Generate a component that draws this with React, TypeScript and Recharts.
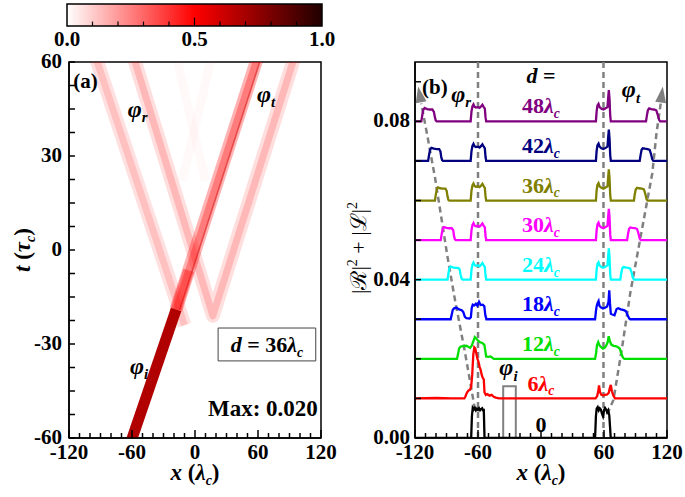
import React from 'react';
import { ComposedChart, Line, XAxis, YAxis, ReferenceArea, ReferenceLine, ReferenceDot } from 'recharts';

const SERIF = '"Liberation Serif", "Times New Roman", Times, serif';

// ---------------- colour bar ----------------
const cbTicks = [0, 0.1, 0.2, 0.3, 0.4, 0.5, 0.6, 0.7, 0.8, 0.9, 1.0];
const cbLabelled = [0, 0.5, 1.0];
const cbStops = [
  { offset: 0, color: '#ffffff' },
  { offset: 0.5, color: '#ff0000' },
  { offset: 1, color: '#200000' },
];
const cbData = [{ v: 0, w: 0 }, { v: 1, w: 1 }];

// ---------------- panel (a) ----------------
const xTicks = [-120, -110, -100, -90, -80, -70, -60, -50, -40, -30, -20, -10, 0, 10, 20, 30, 40, 50, 60, 70, 80, 90, 100, 110, 120];
const tTicks = [-60, -52.5, -45, -37.5, -30, -22.5, -15, -7.5, 0, 7.5, 15, 22.5, 30, 37.5, 45, 52.5, 60];

const ghostBand1 = [{ x: -18, t: 62 }, { x: 10, t: 22 }];
const ghostBand2 = [{ x: 16, t: 62 }, { x: -12, t: 22 }];
const reflBandA = [{ x: -98, t: 65 }, { x: -10, t: -24 }];
const reflVBand = [{ x: -61.6, t: 65 }, { x: 17, t: -21 }, { x: 98, t: 65 }];
const transBand = [{ x: -18, t: -19 }, { x: 65.4, t: 67.5 }];
const transEdge = [{ x: -14.5, t: -19 }, { x: 68.9, t: 67.5 }];
const crossSpot = [{ x: -19, t: -20 }, { x: -6, t: -6.5 }];
const incidentBand = [{ x: -64.9, t: -65 }, { x: -18, t: -19 }];

type Band = { data: { x: number; t: number }[]; w: number; c: string; o: number };
const bands: Band[] = [
  { data: ghostBand1, w: 9, c: '#ff0000', o: 0.025 },
  { data: ghostBand2, w: 9, c: '#ff0000', o: 0.025 },
  { data: reflBandA, w: 14, c: '#ff0000', o: 0.12 },
  { data: reflBandA, w: 7, c: '#ff0000', o: 0.14 },
  { data: reflVBand, w: 14, c: '#ff0000', o: 0.13 },
  { data: reflVBand, w: 7, c: '#ff0000', o: 0.17 },
  { data: transBand, w: 13, c: '#ff0000', o: 0.3 },
  { data: transBand, w: 7, c: '#ff0000', o: 0.3 },
  { data: transEdge, w: 1.6, c: '#d00000', o: 0.5 },
  { data: crossSpot, w: 11, c: '#ff0000', o: 0.35 },
  { data: incidentBand, w: 11, c: '#b00000', o: 1 },
];

// ---------------- panel (b) ----------------
type P = [number, number]; // x (lambda_c), value (1e-3)
const yTicksB = [0, 0.01, 0.02, 0.03, 0.04, 0.05, 0.06, 0.07, 0.08, 0.09];
const traceD = [0, 6, 12, 18, 24, 30, 36, 42, 48];
const traceOffsets = [0, 0.01, 0.02, 0.03, 0.04, 0.05, 0.06, 0.07, 0.08];
const traceColors = ['#000000', '#ff0000', '#00e000', '#0000ff', '#00ffff', '#ff00ff', '#808000', '#000080', '#800080'];

const leftMain: P[] = [[-67, 0], [-66.2, 2.5], [-65.3, 3.8], [-64.3, 4.3], [-63.3, 3.7], [-62, 3.5], [-60, 3.6], [-58.5, 3.4], [-57, 3.8], [-55.8, 4.2], [-54.5, 3.6], [-53.5, 3.2], [-52.8, 1.0], [-52.2, 0]];
const rightMain: P[] = [[52.3, 0], [53, 2.6], [53.8, 4.0], [54.8, 4.4], [55.8, 3.6], [57.5, 3.2], [59.5, 3.0], [61.5, 3.3], [63.3, 3.6], [64, 6.0], [64.6, 7.9], [65.3, 5.5], [65.9, 1.5], [66.5, 0]];

const trace0: P[] = [[-120, 0], [-66.5, 0], [-65.8, 5.5], [-65, 7.6], [-64, 7.2], [-63, 7.6], [-62, 7.0], [-61, 7.4], [-60, 7.1], [-59, 7.5], [-58, 7.0], [-57, 7.3], [-56, 7.5], [-55, 6.9], [-54.5, 7.4], [-53.8, 0],
  [51.5, 0], [52.3, 5.5], [53, 7.4], [54, 7.8], [55, 7.0], [56, 7.5], [57, 7.2], [58, 6.2], [59, 5.5], [60, 7.0], [61, 7.6], [62, 7.2], [63, 6.5], [64, 7.0], [65, 5.8], [65.7, 3], [66.4, 0], [120, 0]];
const trace6: P[] = [[-120, 0], [-100, 0.1], [-85, 0], [-73, 0], [-72, 0.5], [-70.5, 1.5], [-69, 2.0], [-67.5, 2.2], [-66.5, 3.0], [-65.5, 6], [-64.5, 11], [-63.5, 12.9], [-62.5, 12.6], [-61.5, 11.2], [-60.5, 10.0], [-59.5, 9.2], [-58.5, 8.0], [-57.5, 7.2], [-56.5, 6.0], [-55.5, 5.2], [-54.5, 4.8], [-53.8, 1.5], [-52.5, 0.9], [-51, 1.1], [-49, 0.7], [-47, 0.9], [-45, 0.4], [-43, 0.2], [-40, 0],
  [52, 0], [53.5, 0.6], [54.5, 1.8], [55.3, 3.3], [56.2, 1.6], [57.5, 0.9], [59, 0.8], [61, 0.9], [63, 1.0], [64.5, 1.4], [65.5, 2.6], [66.5, 3.4], [67.5, 1.8], [69, 0.7], [70.5, 0], [120, 0]];
const trace12: P[] = [[-120, 0], [-80, 0], [-79, 1.2], [-78, 2.6], [-76.5, 3.1], [-74, 3.2], [-71, 3.3], [-69, 3.0], [-67.5, 2.8], [-66, 3.3], [-64.5, 4.4], [-63, 5.5], [-61.5, 5.1], [-60, 4.6], [-58, 4.2], [-56, 4.0], [-54, 3.6], [-53, 2.0], [-52.3, 0.6], [-50, 0.5], [-48, 0.6], [-46.5, 0.3], [-45, 0],
  [51.5, 0], [52.5, 1.5], [53.3, 3.4], [54.5, 4.2], [55.5, 3.5], [57, 3.0], [59, 2.6], [60.5, 2.8], [62, 3.3], [63.5, 4.2], [64.5, 5.7], [65.5, 4.5], [67, 3.6], [69, 3.3], [71, 3.2], [73, 3.0], [75, 2.6], [76.5, 1.4], [78, 0.3], [79.5, 0], [120, 0]];
const trace18: P[] = [[-120, 0], [-86, 0], [-85, 1.2], [-84, 2.4], [-82.5, 2.8], [-80.5, 2.9], [-78, 2.5], [-75.5, 2.3], [-74, 1.8], [-72.5, 0.6], [-71, 0.3], [-68, 0.2], [-66.8, 0.5], [-66, 2.8], [-65, 3.7], [-63.5, 3.5], [-62, 3.9], [-60.5, 3.4], [-59, 4.4], [-57.5, 3.6], [-55.5, 3.7], [-54, 3.3], [-53, 1.0], [-52, 0],
  [51.5, 0], [52.3, 2.0], [53, 3.3], [54, 4.2], [54.8, 4.6], [55.6, 3.4], [57, 3.0], [59, 2.7], [61, 2.9], [63, 3.2], [64.3, 4.5], [65, 7.3], [65.7, 4.0], [66.5, 1.4], [68, 1.2], [70, 1.0], [71, 1.8], [72, 2.6], [73.5, 2.8], [76, 2.5], [79, 2.3], [81, 2.0], [82.5, 1.0], [84, 0.2], [85, 0], [120, 0]];
const trace24: P[] = [[-120, 0], [-89, 0], [-88.2, 1.5], [-87.3, 2.9], [-86, 3.3], [-84, 3.1], [-81.5, 3.0], [-79, 3.0], [-77.5, 2.6], [-76.5, 1.2], [-75.5, 0.2], [-74.5, 0],
  ...leftMain, ...rightMain,
  [75.5, 0], [76.3, 1.4], [77.3, 2.8], [78.5, 3.2], [80.5, 3.1], [83, 3.0], [85, 2.8], [86.3, 1.8], [87.5, 0.5], [88.6, 0], [120, 0]];
const trace30: P[] = [[-120, 0], [-95.5, 0], [-94.6, 1.5], [-93.6, 2.9], [-92.3, 3.3], [-90, 3.1], [-87.5, 3.0], [-85, 3.0], [-83.6, 2.5], [-82.8, 1.0], [-82, 0.2], [-81, 0],
  ...leftMain, ...rightMain,
  [82, 0], [82.8, 1.4], [83.8, 2.8], [85, 3.2], [87, 3.1], [89.5, 3.0], [91.5, 2.8], [92.7, 1.8], [94, 0.4], [95, 0], [120, 0]];
const trace36: P[] = [[-120, 0], [-101, 0], [-100.2, 1.5], [-99.2, 2.9], [-98, 3.3], [-96, 3.1], [-93.5, 3.0], [-91, 3.0], [-89.8, 2.4], [-89, 1.0], [-88.2, 0.2], [-87.3, 0],
  ...leftMain, ...rightMain,
  [88.5, 0], [89.2, 1.4], [90.2, 2.8], [91.5, 3.2], [93.5, 3.1], [96, 3.0], [98, 2.8], [99.2, 1.8], [100.5, 0.4], [101.5, 0], [120, 0]];
const trace42: P[] = [[-120, 0], [-107.5, 0], [-106.6, 1.5], [-105.6, 2.9], [-104.3, 3.3], [-102, 3.1], [-99.5, 3.0], [-97, 3.0], [-95.8, 2.4], [-95, 1.0], [-94.2, 0.2], [-93.3, 0],
  ...leftMain, ...rightMain,
  [94, 0], [94.8, 1.4], [95.8, 2.8], [97, 3.2], [99, 3.1], [101.5, 3.0], [103.5, 2.8], [104.7, 1.8], [106, 0.4], [107, 0], [120, 0]];
const trace48: P[] = [[-120, 0], [-114, 0], [-113.1, 1.5], [-112.1, 2.9], [-110.8, 3.4], [-108.5, 3.1], [-106, 3.0], [-103.5, 3.0], [-102, 2.4], [-101, 1.0], [-100.2, 0.2], [-99.3, 0],
  ...leftMain, ...rightMain,
  [100, 0], [100.8, 1.4], [101.8, 2.8], [103, 3.3], [105, 3.1], [107.5, 3.0], [109.8, 2.8], [111, 1.8], [112.5, 0.4], [113.5, 0], [120, 0]];
const traces = [trace0, trace6, trace12, trace18, trace24, trace30, trace36, trace42, trace48];

const incidentPulse = [{ x: -36, y: 0 }, { x: -36, y: 0.0131 }, { x: -24, y: 0.0131 }, { x: -24, y: 0 }];
const leftGuide = [{ x: -63, y: 0.0072 }, { x: -66, y: 0.012 }, { x: -73, y: 0.0225 }, { x: -82, y: 0.035 }, { x: -89, y: 0.0457 }, { x: -95, y: 0.0558 }, { x: -101, y: 0.0659 }, { x: -108, y: 0.076 }, { x: -114, y: 0.0845 }];
const rightGuide = [{ x: 63, y: 0.006 }, { x: 69, y: 0.0096 }, { x: 77, y: 0.0225 }, { x: 85, y: 0.0366 }, { x: 92, y: 0.0467 }, { x: 99, y: 0.0568 }, { x: 106, y: 0.0669 }, { x: 110, y: 0.077 }, { x: 114, y: 0.0845 }];
const guideTips = [{ x: -117, y: 0.0888, dx: -9.4, dy: -49.6 }, { x: 116, y: 0.0888, dx: 6.3, dy: -45.6 }];
const verticalGuides = [-60, 59.5];

// ---------------- helpers ----------------
const txt = (extra: any = {}) => ({ fontFamily: SERIF, fontWeight: 'bold' as const, fill: '#000', ...extra });

const CbTick = (props: any) => {
  const { x, y, payload } = props;
  const v = payload.value;
  if (!cbLabelled.some((l) => Math.abs(l - v) < 1e-6)) return <g />;
  return <text x={x} y={y + 20} textAnchor="middle" fontSize={21} {...txt()}>{v.toFixed(1)}</text>;
};

const XTick = (props: any) => {
  const { x, y, payload } = props;
  const v = payload.value;
  const major = v % 60 === 0;
  return (
    <g>
      <line x1={x} x2={x} y1={y} y2={y - (major ? 8 : 5)} stroke="#000" strokeWidth={1.5} />
      {major && <text x={x} y={y + 21} textAnchor="middle" fontSize={21} {...txt()}>{v}</text>}
    </g>
  );
};

const YTickA = (props: any) => {
  const { x, y, payload } = props;
  const v = payload.value;
  const major = v % 30 === 0;
  return (
    <g>
      <line x1={x} x2={x + 6} y1={y} y2={y} stroke="#000" strokeWidth={1.5} />
      {major && <text x={x - 7} y={y + 6} textAnchor="end" fontSize={21} {...txt()}>{v}</text>}
    </g>
  );
};

const YTickB = (props: any) => {
  const { x, y, payload } = props;
  const v = payload.value;
  const major = Math.round(v * 100) % 4 === 0;
  return (
    <g>
      <line x1={x} x2={x + 6} y1={y} y2={y} stroke="#000" strokeWidth={1.5} />
      {major && <text x={x - 5} y={y + 6} textAnchor="end" fontSize={21} {...txt()}>{v.toFixed(2)}</text>}
    </g>
  );
};

const sym = (main: string, sub: string, size: number) => [
  <tspan key="m" fontStyle="italic" fontSize={size}>{main}</tspan>,
  <tspan key="s" fontStyle="italic" fontSize={size * 0.62} dy={size * 0.22}>{sub}</tspan>,
];

const label = (key: string, x: number, y: number, render: (cx: number, cy: number) => React.ReactElement) => (
  <ReferenceDot key={key} x={x} y={y} r={0} ifOverflow="visible" shape={(p: any) => render(p.cx, p.cy)} />
);

const arrowShape = (dx: number, dy: number) => (p: any) => {
  const len = Math.hypot(dx, dy);
  const ux = dx / len, uy = dy / len;
  const L = 16, W = 5.5;
  const bx = p.cx - ux * L, by = p.cy - uy * L;
  const pts = `${p.cx},${p.cy} ${bx - uy * W},${by + ux * W} ${bx + uy * W},${by - ux * W}`;
  return <polygon points={pts} fill="#808080" />;
};

// ---------------- charts ----------------
function ColorBar() {
  return (
    <ComposedChart width={340} height={56} margin={{ top: 4, right: 18, bottom: 0, left: 67 }} data={cbData}>
      <defs>
        <linearGradient id="cbGrad" x1="0" y1="0" x2="1" y2="0">
          {cbStops.map((s) => <stop key={s.offset} offset={s.offset} stopColor={s.color} />)}
        </linearGradient>
      </defs>
      <ReferenceArea x1={0} x2={1} y1={0} y2={1} fill="url(#cbGrad)" fillOpacity={1} stroke="#000" strokeWidth={1.5} />
      {cbTicks.slice(1, -1).map((v) => (
        <ReferenceLine key={v} segment={[{ x: v, y: 0 }, { x: v, y: v === 0.5 ? 0.38 : 0.2 }]} stroke="#000" strokeWidth={1.2} />
      ))}
      <Line dataKey="w" stroke="none" dot={false} activeDot={false} isAnimationActive={false} />
      <XAxis dataKey="v" type="number" domain={[0, 1]} ticks={cbTicks} interval={0} allowDataOverflow tickSize={0} tickMargin={0} tickLine={false} axisLine={false} tick={<CbTick />} height={30} />
      <YAxis type="number" domain={[0, 1]} hide allowDataOverflow />
    </ComposedChart>
  );
}

function PanelA() {
  return (
    <ComposedChart width={340} height={497} margin={{ top: 62, right: 19, bottom: 29, left: 9 }}>
      {bands.map((b, i) => (
        <Line key={i} data={b.data} dataKey="t" type="linear" stroke={b.c} strokeOpacity={b.o} strokeWidth={b.w} strokeLinecap="butt" strokeLinejoin="round" dot={false} activeDot={false} isAnimationActive={false} />
      ))}
      <ReferenceArea x1={-120} x2={120} y1={-60} y2={60} fill="none" stroke="#000" strokeWidth={1.5} />
      <ReferenceArea x1={22} x2={115} y1={-35.4} y2={-24.9} fill="#fff" fillOpacity={1} stroke="#444" strokeWidth={1} />
      {label('a', -116, 51.7, (cx, cy) => <text x={cx} y={cy} fontSize={21} {...txt()}>(a)</text>)}
      {label('pr', -64, 42.5, (cx, cy) => <text x={cx} y={cy} {...txt()}>{sym('φ', 'r', 24)}</text>)}
      {label('pt', 59, 47.2, (cx, cy) => <text x={cx} y={cy} {...txt()}>{sym('φ', 't', 24)}</text>)}
      {label('pi', -62, -39.6, (cx, cy) => <text x={cx} y={cy} {...txt()}>{sym('φ', 'i', 24)}</text>)}
      {label('d', 68.5, -32.6, (cx, cy) => (
        <text x={cx} y={cy} textAnchor="middle" fontSize={22} {...txt()}>
          <tspan fontStyle="italic">d</tspan>{' = 36'}{sym('λ', 'c', 22)}
        </text>
      ))}
      {label('max', 117, -53, (cx, cy) => <text x={cx} y={cy} textAnchor="end" fontSize={23} {...txt()}>Max: 0.020</text>)}
      <XAxis dataKey="x" type="number" domain={[-120, 120]} ticks={xTicks} interval={0} allowDataOverflow tickSize={0} tickMargin={0} tickLine={false} axisLine={{ stroke: '#000', strokeWidth: 1.5 }} tick={<XTick />} height={30} />
      <YAxis type="number" domain={[-60, 60]} ticks={tTicks} interval={0} allowDataOverflow tickSize={0} tickMargin={0} tickLine={false} axisLine={{ stroke: '#000', strokeWidth: 1.5 }} tick={<YTickA />} width={60} />
    </ComposedChart>
  );
}

function PanelB() {
  return (
    <ComposedChart width={345} height={497} margin={{ top: 62, right: 18, bottom: 29, left: 15 }}>
      {verticalGuides.map((v) => (
        <ReferenceLine key={v} x={v} stroke="#808080" strokeWidth={2.5} strokeDasharray="6 4" />
      ))}
      <Line data={leftGuide} dataKey="y" type="linear" stroke="#808080" strokeWidth={2.5} strokeDasharray="6 4" dot={false} activeDot={false} isAnimationActive={false} />
      <Line data={rightGuide} dataKey="y" type="linear" stroke="#808080" strokeWidth={2.5} strokeDasharray="6 4" dot={false} activeDot={false} isAnimationActive={false} />
      <Line data={incidentPulse} dataKey="y" type="linear" stroke="#808080" strokeWidth={2} dot={false} activeDot={false} isAnimationActive={false} />
      {traces.map((tr, i) => (
        <Line
          key={'tr' + i}
          data={tr.map(([x, v]) => ({ x, y: traceOffsets[i] + v / 1000 }))}
          dataKey="y"
          type="linear"
          stroke={traceColors[i]}
          strokeWidth={2.3}
          dot={false}
          activeDot={false}
          isAnimationActive={false}
        />
      ))}
      {guideTips.map((g, i) => (
        <ReferenceDot key={'tip' + i} x={g.x} y={g.y} r={0} ifOverflow="visible" shape={arrowShape(g.dx, g.dy)} />
      ))}
      <ReferenceArea x1={-120} x2={120} y1={0} y2={0.095} fill="none" stroke="#000" strokeWidth={1.5} />
      {label('b', -113.3, 0.0868, (cx, cy) => <text x={cx} y={cy} fontSize={21} {...txt()}>(b)</text>)}
      {label('pr', -85.5, 0.085, (cx, cy) => <text x={cx} y={cy} {...txt()}>{sym('φ', 'r', 24)}</text>)}
      {label('pt', 77, 0.0861, (cx, cy) => <text x={cx} y={cy} {...txt()}>{sym('φ', 't', 24)}</text>)}
      {label('pi', -31, 0.0158, (cx, cy) => <text x={cx} y={cy} textAnchor="middle" {...txt()}>{sym('φ', 'i', 24)}</text>)}
      {label('deq', 0, 0.0896, (cx, cy) => (
        <text x={cx} y={cy} textAnchor="middle" fontSize={22} {...txt()}><tspan fontStyle="italic">d</tspan>{' ='}</text>
      ))}
      {traceD.map((d, i) =>
        label('dl' + i, 0, traceOffsets[i] + (d === 0 ? 0.0015 : 0.002), (cx, cy) => (
          <text x={cx} y={cy} textAnchor="middle" fontSize={22} {...txt({ fill: traceColors[i] })}>
            {d === 0 ? '0' : [<tspan key="n">{String(d)}</tspan>, ...sym('λ', 'c', 22)]}
          </text>
        ))
      )}
      <XAxis dataKey="x" type="number" domain={[-120, 120]} ticks={xTicks} interval={0} allowDataOverflow tickSize={0} tickMargin={0} tickLine={false} axisLine={{ stroke: '#000', strokeWidth: 1.5 }} tick={<XTick />} height={30} />
      <YAxis type="number" domain={[0, 0.095]} ticks={yTicksB} interval={0} allowDataOverflow tickSize={0} tickMargin={0} tickLine={false} axisLine={{ stroke: '#000', strokeWidth: 1.5 }} tick={<YTickB />} width={60} />
    </ComposedChart>
  );
}

export default function App() {
  return (
    <div style={{ position: 'absolute', left: 0, top: 0, width: 685, height: 497, background: '#fff', overflow: 'hidden' }}>
      <div style={{ position: 'absolute', left: 0, top: 0 }}><PanelA /></div>
      <div style={{ position: 'absolute', left: 0, top: 0 }}><ColorBar /></div>
      <div style={{ position: 'absolute', left: 340, top: 0 }}><PanelB /></div>
      <svg style={{ position: 'absolute', left: 0, top: 0, pointerEvents: 'none' }} width={685} height={497}>
        <text x={30} y={250} transform="rotate(-90, 30, 250)" textAnchor="middle" fontSize={23} {...txt()}>
          <tspan fontStyle="italic">t</tspan>{' ('}<tspan fontStyle="italic">τ</tspan>
          <tspan fontStyle="italic" fontSize={14} dy={5}>c</tspan><tspan dy={-5}>)</tspan>
        </text>
        <text x={195} y={480} textAnchor="middle" fontSize={23} {...txt()}>
          <tspan fontStyle="italic">x</tspan>{' ('}<tspan fontStyle="italic">λ</tspan>
          <tspan fontStyle="italic" fontSize={14} dy={5}>c</tspan><tspan dy={-5}>)</tspan>
        </text>
        <text x={541} y={480} textAnchor="middle" fontSize={23} {...txt()}>
          <tspan fontStyle="italic">x</tspan>{' ('}<tspan fontStyle="italic">λ</tspan>
          <tspan fontStyle="italic" fontSize={14} dy={5}>c</tspan><tspan dy={-5}>)</tspan>
        </text>
        <text x={366} y={248} transform="rotate(-90, 366, 248)" textAnchor="middle" fontSize={22} fontFamily={SERIF} fill="#000">
          {'|ℛ|'}<tspan fontSize={14} dy={-9}>2</tspan><tspan dy={9}>{' + |ℒ|'}</tspan><tspan fontSize={14} dy={-9}>2</tspan>
        </text>
      </svg>
    </div>
  );
}
